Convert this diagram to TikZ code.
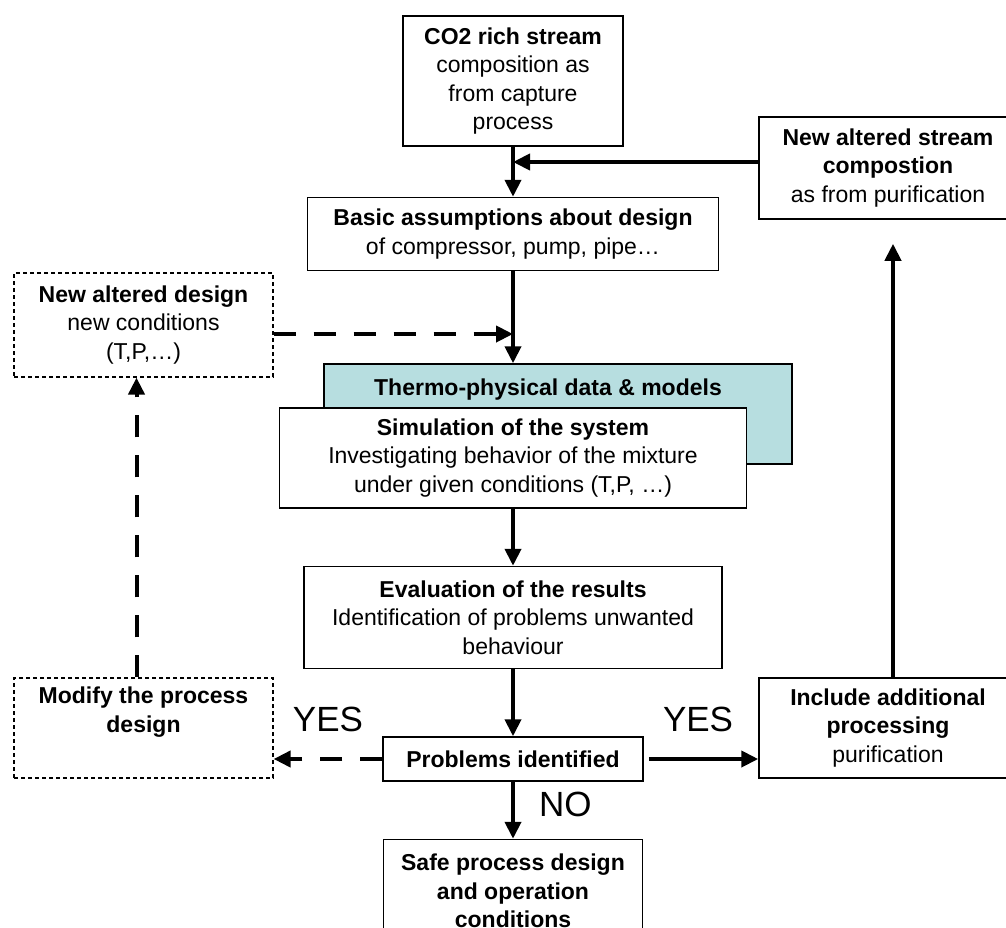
\documentclass[tikz,border=0pt]{standalone}
\usepackage{fontspec}
\setmainfont{Liberation Sans}
\usetikzlibrary{shapes,arrows.meta,positioning}
\definecolor{thermoteal}{RGB}{183,222,224}

\begin{document}
\begin{tikzpicture}[x=1pt,y=-1pt]
 \tikzset{main node/.style={rectangle, draw, line width=1.5pt, fill=white,
 		text centered, align=center, font=\fontsize{23}{28.5}\selectfont}, }
 \tikzset{dotted node/.style={main node, line width=1.2pt,
 		dash pattern=on 4pt off 3pt}, }
 \tikzset{data node/.style={main node, fill=thermoteal}, }
 \tikzset{answer/.style={font=\fontsize{35}{40}\selectfont, inner sep=0pt}, }
 \tikzset{linea/.style={line width=4pt, -{Triangle[length=17pt,width=16pt]}},}
 \tikzset{linea dashed/.style={linea, dash pattern=on 22pt off 18pt},}
 \useasboundingbox (0,0) rectangle (1006,927);
 \clip (0,0) rectangle (1006,927);
 \node[main node, minimum width=220pt, minimum height=130pt] (co2) at (513,81)
 	{\textbf{CO2 rich stream}\\composition as\\from capture\\process};
 \node[main node, minimum width=411pt, minimum height=73pt] (basic) [below=50pt of co2]
 	{\textbf{Basic assumptions about design}\\of compressor, pump, pipe…};
 \node[main node, minimum width=258pt, minimum height=102pt] (stream) at (888,168)
 	{\textbf{New altered stream}\\\textbf{compostion}\\as from purification};
 \node[dotted node, minimum width=259pt, minimum height=104pt] (design) at (143.5,325)
 	{\textbf{New altered design}\\new conditions\\(T,P,…)};
 \node[data node, minimum width=468pt, minimum height=100pt,
 	label={[anchor=north, inner sep=0pt, yshift=-15pt, xshift=-10pt,
 		font=\fontsize{23}{28.5}\selectfont\bfseries]north:Thermo-physical data \& models}]
 	(thermo) at (558,414) {};
 \node[main node, minimum width=467pt, minimum height=100pt] (sim) at (513,458)
 	{\textbf{Simulation of the system}\\Investigating behavior of the mixture\\under given conditions (T,P, …)};
 \node[main node, minimum width=418pt, minimum height=102pt] (eval) [below=57pt of sim]
 	{\textbf{Evaluation of the results}\\Identification of problems unwanted\\behaviour};
 \node[main node, minimum width=260pt, minimum height=44pt] (problems) [below=67pt of eval]
 	{\textbf{Problems identified}};
 \node[main node, minimum width=259pt, minimum height=103pt] (safe) [below=57pt of problems]
 	{\textbf{Safe process design}\\\textbf{and operation}\\\textbf{conditions}};
 \node[dotted node, minimum width=259pt, minimum height=100pt] (modify) at (143.5,728)
 	{\textbf{Modify the process}\\\textbf{design}\\\strut};
 \node[main node, minimum width=258pt, minimum height=100pt] (include) at (888,728)
 	{\textbf{Include additional}\\\textbf{processing}\\purification};
 \coordinate (merge) at (513,162);
 \coordinate (dmerge) at (513,334);
 \foreach \x /\y in {co2/basic,sim/eval,eval/problems}
 	\draw[linea] (\x.south) -- (\y.north);
 \draw[linea] (stream.west |- merge) -- (merge);
 \draw[linea] (basic.south) -- (basic.south |- thermo.north);
 \draw[linea dashed] (design.east |- dmerge) -- (dmerge);
 \draw[linea] (problems.south) -- (safe.north)
 	node[answer, pos=0.4, right=24pt] {NO};
 \draw[linea] ([xshift=5pt]problems.east) -- (include.west |- problems.east)
 	node[answer, pos=0.45, above=25pt] {YES};
 \draw[linea dashed] (problems.west) -- (modify.east |- problems.west)
 	node[answer, midway, above=25pt] {YES};
 \draw[linea dashed] ([xshift=-7pt]modify.north) -- ([xshift=-7pt]design.south);
 \draw[linea, shorten >=24pt] ([xshift=5pt]include.north) -- ([xshift=5pt]stream.south);
 %%
\end{tikzpicture}
\end{document}
